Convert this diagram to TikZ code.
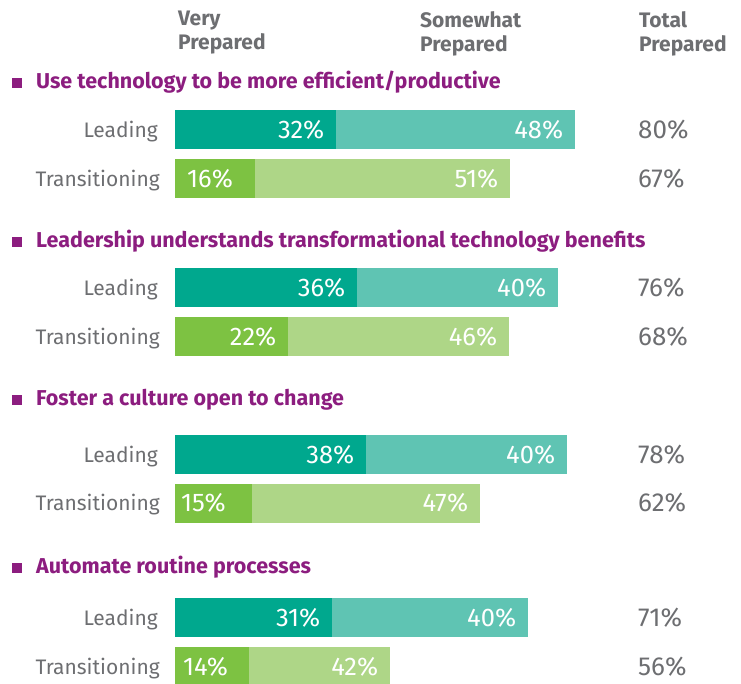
\documentclass[tikz,border=0pt]{standalone}
\usepackage{fontspec}
\setmainfont{Fira Sans}
\usetikzlibrary{positioning}

\definecolor{tealdark}{HTML}{00A88E}
\definecolor{teallight}{HTML}{5FC4B3}
\definecolor{greendark}{HTML}{7DC242}
\definecolor{greenlight}{HTML}{AED687}
\definecolor{headpurple}{HTML}{8C1D7F}
\definecolor{textgray}{HTML}{6D6E71}

\begin{document}
\begin{tikzpicture}[
  x=1pt, y=-1pt,
  bar/.style={rectangle, inner sep=0pt, minimum height=39pt, anchor=west},
  val/.style={text=white, inner sep=0pt, text height=17.5pt, text depth=0pt,
    font=\fontsize{25.5}{26}\selectfont},
  valr/.style={val, anchor=east, xshift=-12pt},
  vall/.style={val, anchor=west, xshift=8pt},
  rowlabel/.style={text=textgray, inner sep=0pt, text height=15pt, text depth=0pt,
    font=\fontsize{21}{24}\selectfont},
  total/.style={text=textgray, inner sep=0pt, anchor=west, text height=17.5pt, text depth=0pt,
    font=\fontsize{26}{26}\selectfont},
  topic/.style={text=headpurple, inner sep=0pt, anchor=base west, font=\bfseries\fontsize{21.5}{24}\selectfont},
  marker/.style={rectangle, fill=headpurple, inner sep=0pt, minimum size=10pt, anchor=south west},
  colhead/.style={text=textgray, inner sep=0pt, anchor=north west, align=left, font=\bfseries\fontsize{21}{24}\selectfont},
  ]
  \useasboundingbox (0,0) rectangle (741,683);

  % column heads
  \node[colhead] (very) at (178,11) {Very\\Prepared};
  \node[colhead] (some) at (420,11) {Somewhat\\Prepared};
  \node[colhead] (tot) at (639,11) {Total\\Prepared};

  % use technology
  \node[marker] (mark1) at (12,88) {};
  \node[topic] (topic1) at (36,88) {Use technology to be more efficient/productive};

  \node[bar, fill=tealdark, minimum width=161pt,
  label={[valr]east:32\%}] (lead1a) at (175,129.5) {};
  \node[bar, fill=teallight, minimum width=239pt, right=-0.5pt of lead1a,
  label={[valr]east:48\%}] (lead1b) {};
  \node[rowlabel, left=17pt of lead1a] (lab1a) {Leading};
  \node[total] (tot1a) at (638,129.5) {80\%};

  \node[bar, fill=greendark, minimum width=80pt,
  label={[vall, xshift=4pt]west:16\%}] (tran1a) at (175,178.5) {};
  \node[bar, fill=greenlight, minimum width=255pt, right=-0.5pt of tran1a,
  label={[valr]east:51\%}] (tran1b) {};
  \node[rowlabel, left=15pt of tran1a] (lab1b) {Transitioning};
  \node[total] (tot1b) at (638,178.5) {67\%};

  % leadership
  \node[marker] (mark2) at (12,247) {};
  \node[topic] (topic2) at (36,247) {Leadership understands transformational technology benefits};

  \node[bar, fill=tealdark, minimum width=182pt,
  label={[valr]east:36\%}] (lead2a) at (175,287.5) {};
  \node[bar, fill=teallight, minimum width=201pt, right=-0.5pt of lead2a,
  label={[valr]east:40\%}] (lead2b) {};
  \node[rowlabel, left=17pt of lead2a] (lab2a) {Leading};
  \node[total] (tot2a) at (638,287.5) {76\%};

  \node[bar, fill=greendark, minimum width=113pt,
  label={[valr]east:22\%}] (tran2a) at (175,336.5) {};
  \node[bar, fill=greenlight, minimum width=221pt, right=-0.5pt of tran2a,
  label={[valr]east:46\%}] (tran2b) {};
  \node[rowlabel, left=15pt of tran2a] (lab2b) {Transitioning};
  \node[total] (tot2b) at (638,336.5) {68\%};

  % culture
  \node[marker] (mark3) at (12,405) {};
  \node[topic] (topic3) at (36,405) {Foster a culture open to change};

  \node[bar, fill=tealdark, minimum width=191pt,
  label={[valr]east:38\%}] (lead3a) at (175,454.5) {};
  \node[bar, fill=teallight, minimum width=201pt, right=-0.5pt of lead3a,
  label={[valr]east:40\%}] (lead3b) {};
  \node[rowlabel, left=17pt of lead3a] (lab3a) {Leading};
  \node[total] (tot3a) at (638,454.5) {78\%};

  \node[bar, fill=greendark, minimum width=77pt,
  label={[vall, xshift=-2pt]west:15\%}] (tran3a) at (175,503) {};
  \node[bar, fill=greenlight, minimum width=228pt, right=-0.5pt of tran3a,
  label={[valr]east:47\%}] (tran3b) {};
  \node[rowlabel, left=15pt of tran3a] (lab3b) {Transitioning};
  \node[total] (tot3b) at (638,503) {62\%};

  % automate
  \node[marker] (mark4) at (12,573) {};
  \node[topic] (topic4) at (36,573) {Automate routine processes};

  \node[bar, fill=tealdark, minimum width=157pt,
  label={[valr]east:31\%}] (lead4a) at (175,617.5) {};
  \node[bar, fill=teallight, minimum width=196pt, right=-0.5pt of lead4a,
  label={[valr]east:40\%}] (lead4b) {};
  \node[rowlabel, left=17pt of lead4a] (lab4a) {Leading};
  \node[total] (tot4a) at (638,617.5) {71\%};

  \node[bar, fill=greendark, minimum width=74pt,
  label={[vall]west:14\%}] (tran4a) at (175,666.5) {};
  \node[bar, fill=greenlight, minimum width=141pt, right=-0.5pt of tran4a,
  label={[valr]east:42\%}] (tran4b) {};
  \node[rowlabel, left=15pt of tran4a] (lab4b) {Transitioning};
  \node[total] (tot4b) at (638,666.5) {56\%};
\end{tikzpicture}
\end{document}
